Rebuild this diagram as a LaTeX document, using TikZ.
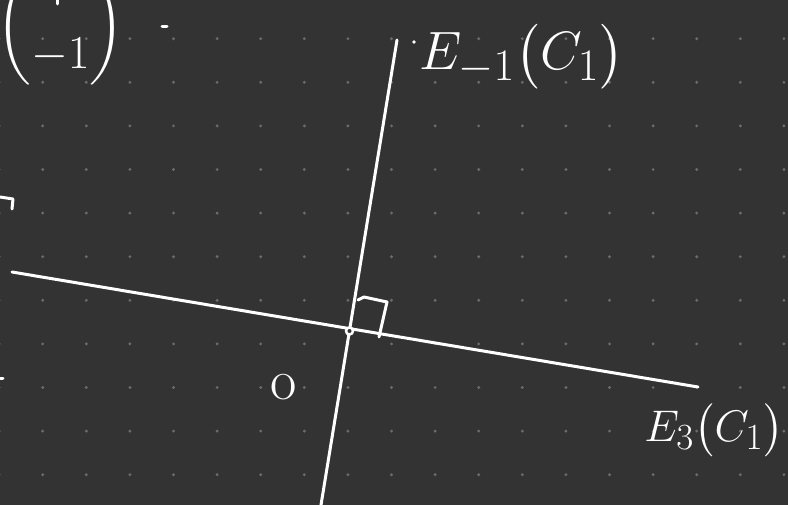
\documentclass[tikz,border=0pt]{standalone}
\usepackage{amsmath}
\usepackage{tikz}
\usetikzlibrary{positioning}
\definecolor{boardbg}{RGB}{51,51,51}
\definecolor{gridgray}{RGB}{108,108,108}

\begin{document}
\begin{tikzpicture}[x=1pt,y=-1pt,
    chalk/.style={white, line width=3pt, line cap=round, line join=round},
    chalktext/.style={text=white, font=\Huge, inner sep=0pt}]
   \useasboundingbox (0,0) rectangle (788,505);
   \clip (0,0) rectangle (788,505);
   \fill[boardbg] (0,0) rectangle (788,505);
   \foreach \i in {0,...,18}{
     \foreach \j in {0,...,10}{
       \fill[gridgray] (-0.9+43.6*\i, 38.7+43.6*\j) circle (1.6);
     }}
   % the two lines and their meeting point
   \coordinate (eTop) at (397,40);
   \coordinate (eBot) at (320.5,508);
   \coordinate (fLeft) at (12,272);
   \coordinate (fRight) at (698,387);
   \coordinate (meet) at (349.5,331);
   \draw[chalk] (eTop) -- (eBot);
   \draw[chalk] (fLeft) -- (fRight);
   \draw[chalk, line width=2.5pt, fill=boardbg] (meet) circle (3.5);
   \draw[chalk] (358,300) -- (364,297) -- (387,302) -- (379,337);
   % labels
   \node[chalktext, scale=2.17, anchor=base west] (lblMinus) at (419,70) {$E_{-1}\bigl(C_1\bigr)$};
   \fill[white] (414,42) circle (1.8);
   \node[chalktext, scale=1.78, anchor=base west] (lblThree) at (644,441) {$E_3\bigl(C_1\bigr)$};
   \node[chalktext, scale=2.3] (lblO) at (284,387) {o};
   \node[chalktext, scale=1.9, anchor=south west] (vecPart) at (-4,86) {$\begin{pmatrix} \\ -1 \end{pmatrix}$};
   % stray marks at the edges
   \draw[chalk] (57,-2) -- (57,4);
   \draw[chalk] (162,27) -- (167,27);
   \draw[chalk] (0,197) -- (13,199) -- (12,209);
   \draw[chalk] (0,379) -- (3,379);
  \end{tikzpicture}
\end{document}
